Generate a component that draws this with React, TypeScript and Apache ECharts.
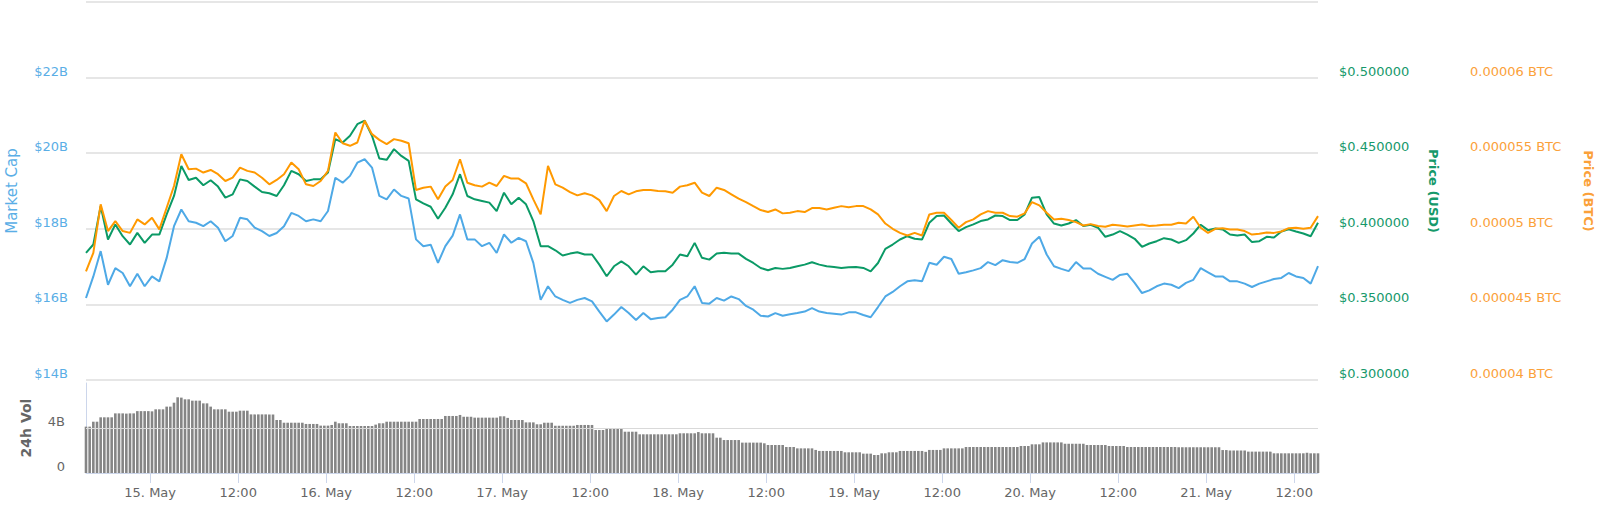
import React, { useEffect, useRef } from "react";
import * as echarts from "echarts";

// time: hours after 14 May 00:00 (UTC); line samples are hourly, volume samples half-hourly
const START_HOUR = 15.25;
const END_HOUR = 183.25;

const xTickHours = [24, 36, 48, 60, 72, 84, 96, 108, 120, 132, 144, 156, 168, 180];
const xTickLabels = ["15. May", "12:00", "16. May", "12:00", "17. May", "12:00", "18. May", "12:00", "19. May", "12:00", "20. May", "12:00", "21. May", "12:00"];

// Market Cap in billions USD
const marketCap = [
  16.17, 16.74, 17.41, 16.52, 16.96, 16.83, 16.48, 16.81, 16.48, 16.74, 16.61, 17.23, 18.07, 18.51, 18.20, 18.16, 18.07, 18.20, 18.03, 17.67, 17.81, 18.29, 18.25, 18.03, 17.94, 17.81, 17.89, 18.07, 18.42, 18.34, 18.20, 18.25, 18.20, 18.47, 19.35, 19.22, 19.40, 19.75, 19.84, 19.62, 18.87, 18.78, 19.04,
  18.87, 18.80, 17.72, 17.54, 17.58, 17.10, 17.54, 17.82, 18.38, 17.72, 17.72, 17.54, 17.63, 17.36, 17.85, 17.63, 17.76, 17.67, 17.10, 16.12, 16.48, 16.21, 16.12, 16.04, 16.12, 16.17, 16.08, 15.81, 15.55, 15.73, 15.93, 15.77, 15.59, 15.77, 15.61, 15.64, 15.66, 15.86, 16.12, 16.21, 16.48, 16.04,
  16.02, 16.17, 16.10, 16.21, 16.14, 15.96, 15.86, 15.70, 15.68, 15.77, 15.70, 15.74, 15.77, 15.81, 15.90, 15.81, 15.77, 15.75, 15.73, 15.79, 15.79, 15.72, 15.66, 15.93, 16.21, 16.33, 16.48, 16.61, 16.64, 16.61, 17.10, 17.05, 17.26, 17.20, 16.81, 16.85, 16.90, 16.96, 17.12, 17.04, 17.17, 17.12,
  17.10, 17.20, 17.61, 17.79, 17.32, 17.01, 16.94, 16.88, 17.12, 16.95, 16.95, 16.81, 16.73, 16.65, 16.78, 16.81, 16.57, 16.30, 16.37, 16.48, 16.55, 16.52, 16.43, 16.57, 16.65, 16.96, 16.85, 16.74, 16.74, 16.61, 16.61, 16.55, 16.46, 16.55, 16.61, 16.67, 16.70, 16.83, 16.74, 16.70, 16.55, 17.01,
];

// Price in USD
const priceUsd = [
  0.3841, 0.3896, 0.4150, 0.3929, 0.4029, 0.3951, 0.3896, 0.3973, 0.3907, 0.3962, 0.3962, 0.4095, 0.4217, 0.4416, 0.4323, 0.4338, 0.4288, 0.4321, 0.4279, 0.4206, 0.4228, 0.4327, 0.4316, 0.4279, 0.4243, 0.4235, 0.4217, 0.4288, 0.4383, 0.4361, 0.4316, 0.4327, 0.4327, 0.4372, 0.4593, 0.4571, 0.4615, 0.4692, 0.4715, 0.4615, 0.4465, 0.4456, 0.4527,
  0.4482, 0.4449, 0.4195, 0.4168, 0.4146, 0.4066, 0.4139, 0.4228, 0.4361, 0.4217, 0.4195, 0.4184, 0.4173, 0.4117, 0.4239, 0.4162, 0.4206, 0.4162, 0.4051, 0.3885, 0.3885, 0.3858, 0.3823, 0.3836, 0.3845, 0.3830, 0.3830, 0.3763, 0.3686, 0.3752, 0.3785, 0.3752, 0.3697, 0.3752, 0.3712, 0.3719, 0.3719, 0.3763, 0.3830, 0.3819, 0.3907, 0.3808,
  0.3796, 0.3836, 0.3841, 0.3836, 0.3836, 0.3801, 0.3774, 0.3741, 0.3726, 0.3741, 0.3735, 0.3741, 0.3752, 0.3763, 0.3779, 0.3763, 0.3752, 0.3748, 0.3741, 0.3746, 0.3748, 0.3741, 0.3719, 0.3774, 0.3867, 0.3896, 0.3929, 0.3951, 0.3934, 0.3929, 0.4040, 0.4084, 0.4088, 0.4035, 0.3985, 0.4011, 0.4029, 0.4051, 0.4062, 0.4088, 0.4084, 0.4058,
  0.4058, 0.4095, 0.4206, 0.4210, 0.4095, 0.4035, 0.4022, 0.4035, 0.4058, 0.4018, 0.4027, 0.4007, 0.3947, 0.3962, 0.3985, 0.3962, 0.3934, 0.3881, 0.3903, 0.3918, 0.3938, 0.3929, 0.3907, 0.3925, 0.3969, 0.4027, 0.3991, 0.4002, 0.3996, 0.3962, 0.3956, 0.3962, 0.3912, 0.3918, 0.3947, 0.3942, 0.3982, 0.3996, 0.3982, 0.3969, 0.3951, 0.4040,
];

// Price in BTC, expressed in satoshis (1 BTC = 100,000,000 sat)
const priceBtcSats = [
  4719, 4841, 5162, 4985, 5051, 4985, 4973, 5062, 5029, 5073, 4996, 5139, 5283, 5493, 5394, 5398, 5372, 5389, 5361, 5316, 5338, 5405, 5383, 5372, 5338, 5294, 5323, 5361, 5438, 5394, 5294, 5283, 5316, 5383, 5637, 5566, 5549, 5571, 5715, 5626, 5588, 5560, 5593,
  5582, 5566, 5257, 5272, 5279, 5195, 5279, 5323, 5460, 5305, 5288, 5279, 5305, 5283, 5350, 5332, 5332, 5301, 5195, 5095, 5416, 5294, 5272, 5243, 5221, 5235, 5221, 5190, 5117, 5217, 5250, 5228, 5248, 5257, 5257, 5250, 5248, 5239, 5279, 5288, 5305, 5239,
  5217, 5272, 5257, 5228, 5199, 5177, 5150, 5124, 5111, 5128, 5102, 5106, 5117, 5111, 5137, 5137, 5128, 5139, 5150, 5142, 5150, 5150, 5128, 5095, 5035, 5000, 4973, 4956, 4973, 4956, 5095, 5106, 5106, 5058, 5007, 5044, 5062, 5095, 5117, 5106, 5106, 5084,
  5080, 5102, 5177, 5155, 5106, 5062, 5066, 5058, 5044, 5022, 5031, 5018, 5013, 5027, 5022, 5015, 5022, 5029, 5018, 5022, 5027, 5027, 5040, 5035, 5080, 5007, 4973, 5000, 5004, 4996, 4996, 4985, 4962, 4967, 4976, 4973, 4982, 5004, 5007, 5000, 5007, 5084,
];

// 24h volume in billions USD, half-hourly
const volume24h = [
  4.12, 4.12, 4.56, 4.56, 4.95, 4.95, 4.95, 4.95, 5.3, 5.3, 5.3, 5.28, 5.3, 5.3, 5.5, 5.5, 5.5, 5.5, 5.48, 5.66, 5.66, 5.66, 5.9, 5.9,
  6.25, 6.73, 6.7, 6.55, 6.55, 6.43, 6.43, 6.43, 6.19, 6.19, 5.9, 5.66, 5.66, 5.66, 5.66, 5.45, 5.45, 5.45, 5.54, 5.54, 5.54, 5.21, 5.21, 5.21,
  5.21, 5.21, 5.2, 5.2, 4.71, 4.71, 4.47, 4.47, 4.47, 4.47, 4.47, 4.47, 4.36, 4.36, 4.36, 4.36, 4.21, 4.21, 4.21, 4.27, 4.56, 4.42, 4.42, 4.42,
  4.18, 4.18, 4.18, 4.18, 4.18, 4.18, 4.18, 4.3, 4.42, 4.42, 4.56, 4.56, 4.56, 4.56, 4.56, 4.56, 4.56, 4.56, 4.56, 4.8, 4.8, 4.8, 4.8, 4.8,
  4.8, 4.8, 5.07, 5.07, 5.07, 5.07, 5.16, 5.0, 5.0, 5.0, 4.92, 4.92, 4.92, 4.92, 4.92, 4.92, 4.92, 5.04, 5.04, 4.9, 4.71, 4.71, 4.71, 4.71,
  4.5, 4.5, 4.5, 4.33, 4.33, 4.47, 4.47, 4.47, 4.2, 4.2, 4.2, 4.2, 4.2, 4.2, 4.27, 4.27, 4.27, 4.27, 4.27, 3.82, 3.82, 3.82, 3.91, 3.91,
  3.91, 3.91, 3.91, 3.67, 3.67, 3.67, 3.67, 3.44, 3.44, 3.44, 3.44, 3.44, 3.44, 3.44, 3.44, 3.44, 3.44, 3.44, 3.53, 3.53, 3.53, 3.53, 3.53, 3.64,
  3.53, 3.53, 3.53, 3.53, 3.14, 3.14, 2.93, 2.93, 2.93, 2.93, 2.93, 2.7, 2.7, 2.7, 2.7, 2.7, 2.7, 2.64, 2.49, 2.49, 2.49, 2.49, 2.49, 2.31,
  2.31, 2.31, 2.19, 2.19, 2.19, 2.19, 2.19, 2.05, 1.96, 1.96, 1.96, 1.96, 1.96, 1.96, 1.96, 1.84, 1.84, 1.84, 1.84, 1.84, 1.72, 1.72, 1.72, 1.6,
  1.6, 1.75, 1.75, 1.84, 1.84, 1.84, 1.96, 1.96, 1.96, 1.96, 1.96, 1.96, 1.96, 1.88, 2.05, 2.05, 2.05, 2.05, 2.19, 2.19, 2.19, 2.19, 2.19, 2.19,
  2.31, 2.31, 2.31, 2.31, 2.31, 2.31, 2.31, 2.31, 2.31, 2.31, 2.31, 2.31, 2.31, 2.31, 2.31, 2.4, 2.4, 2.4, 2.55, 2.55, 2.55, 2.72, 2.72, 2.72,
  2.72, 2.72, 2.72, 2.6, 2.6, 2.6, 2.6, 2.6, 2.6, 2.49, 2.49, 2.49, 2.49, 2.49, 2.49, 2.4, 2.4, 2.4, 2.4, 2.4, 2.31, 2.31, 2.31, 2.31,
  2.31, 2.31, 2.31, 2.31, 2.31, 2.31, 2.31, 2.31, 2.31, 2.31, 2.29, 2.29, 2.29, 2.29, 2.29, 2.29, 2.29, 2.29, 2.29, 2.29, 2.29, 2.29, 2.04, 2.04,
  2.0, 2.0, 2.0, 2.0, 2.0, 1.9, 1.9, 1.9, 1.9, 1.9, 1.9, 1.9, 1.75, 1.75, 1.75, 1.75, 1.75, 1.75, 1.75, 1.75, 1.75, 1.8, 1.75, 1.75,
  1.75,
];

const FONT = "DejaVu Sans";
const C_MCAP = "#4ea9e6";
const C_MCAP_TXT = "#5aaee6";
const C_USD = "#0b9a66";
const C_USD_TXT = "#16996b";
const C_BTC = "#ff9900";
const C_BTC_TXT = "#fba13a";
const GRID_LINE = "#e6e6e6";
const AXIS_LINE = "#ccd6eb";

export default function App() {
  const ref = useRef<HTMLDivElement>(null);

  useEffect(() => {
    if (!ref.current) return;
    const chart = echarts.init(ref.current, undefined, { renderer: "svg" });

    const hourly = (arr: number[]) => arr.map((v, i) => [START_HOUR + i, v]);
    const halfHourly = (arr: number[]) => arr.map((v, i) => [START_HOUR + i * 0.5, v]);

    const option: any = {
      animation: false,
      backgroundColor: "#ffffff",
      textStyle: { fontFamily: FONT },
      grid: [
        { left: 86, right: 282, top: 2, height: 378, outerBoundsMode: "none" },
        { left: 86, right: 282, top: 383, height: 90, outerBoundsMode: "none" },
      ],
      xAxis: [
        {
          type: "value",
          gridIndex: 0,
          min: START_HOUR,
          max: END_HOUR,
          show: false,
        },
        {
          type: "value",
          gridIndex: 1,
          min: START_HOUR,
          max: END_HOUR,
          axisLine: { show: true, lineStyle: { color: AXIS_LINE, width: 1 } },
          axisTick: { show: true, length: 10, customValues: xTickHours, lineStyle: { color: AXIS_LINE } },
          axisLabel: {
            customValues: xTickHours,
            margin: 13,
            color: "#666666",
            fontSize: 13,
            fontFamily: FONT,
            formatter: (v: number) => {
              const k = xTickHours.indexOf(Math.round(v));
              return k >= 0 ? xTickLabels[k] : "";
            },
          },
          splitLine: { show: false },
        },
      ],
      yAxis: [
        {
          type: "value",
          gridIndex: 0,
          position: "left",
          min: 14,
          max: 24,
          interval: 2,
          name: "Market Cap",
          nameLocation: "middle",
          nameRotate: 90,
          nameGap: 67,
          nameTextStyle: { color: C_MCAP_TXT, fontSize: 15, fontFamily: FONT },
          axisLine: { show: false },
          axisTick: { show: false },
          axisLabel: {
            color: C_MCAP_TXT,
            fontSize: 13,
            fontFamily: FONT,
            margin: 18,
            verticalAlign: "bottom",
            showMaxLabel: false,
            formatter: (v: number) => (v >= 24 ? "" : `$${v}B`),
          },
          splitLine: { show: true, lineStyle: { color: GRID_LINE, width: 2 } },
        },
        {
          type: "value",
          gridIndex: 0,
          position: "right",
          min: 0.3,
          max: 0.55,
          interval: 0.05,
          name: "Price (USD)",
          nameLocation: "middle",
          nameRotate: -90,
          nameGap: 109,
          nameTextStyle: { color: C_USD_TXT, fontSize: 13, fontWeight: "bold", fontFamily: FONT },
          axisLine: { show: false },
          axisTick: { show: false },
          axisLabel: {
            color: C_USD_TXT,
            fontSize: 13,
            fontFamily: FONT,
            margin: 21,
            verticalAlign: "bottom",
            showMaxLabel: false,
            formatter: (v: number) => (v > 0.52 ? "" : `$${v.toFixed(6)}`),
          },
          splitLine: { show: false },
        },
        {
          type: "value",
          gridIndex: 0,
          position: "right",
          offset: 131,
          min: 4000,
          max: 6500,
          interval: 500,
          name: "Price (BTC)",
          nameLocation: "middle",
          nameRotate: -90,
          nameGap: 133,
          nameTextStyle: { color: C_BTC_TXT, fontSize: 13, fontWeight: "bold", fontFamily: FONT },
          axisLine: { show: false },
          axisTick: { show: false },
          axisLabel: {
            color: C_BTC_TXT,
            fontSize: 13,
            fontFamily: FONT,
            margin: 21,
            verticalAlign: "bottom",
            showMaxLabel: false,
            formatter: (v: number) => (v > 6200 ? "" : `${String(Math.round(v) / 1e8)} BTC`),
          },
          splitLine: { show: false },
        },
        {
          type: "value",
          gridIndex: 1,
          position: "left",
          min: 0,
          max: 8,
          interval: 4,
          name: "24h Vol",
          nameLocation: "middle",
          nameRotate: 90,
          nameGap: 53,
          nameTextStyle: { color: "#666666", fontSize: 14, fontWeight: "bold", fontFamily: FONT },
          axisLine: { show: true, lineStyle: { color: AXIS_LINE, width: 1 } },
          axisTick: { show: false },
          axisLabel: {
            color: "#666666",
            fontSize: 13,
            fontFamily: FONT,
            margin: 21,
            verticalAlign: "bottom",
            showMaxLabel: false,
            formatter: (v: number) => (v === 0 ? "0" : v >= 8 ? "" : `${v}B`),
          },
          splitLine: { show: false },
        },
      ],
      series: [
        {
          name: "24h Vol",
          type: "bar",
          xAxisIndex: 1,
          yAxisIndex: 3,
          data: halfHourly(volume24h),
          barWidth: 2.6,
          itemStyle: { color: "#858585" },
          markLine: {
            silent: true,
            symbol: "none",
            label: { show: false },
            lineStyle: { color: "#d9d9d9", width: 1, type: "solid" },
            data: [{ yAxis: 4 }],
          },
        },
        {
          name: "Market Cap",
          type: "line",
          xAxisIndex: 0,
          yAxisIndex: 0,
          data: hourly(marketCap),
          showSymbol: false,
          symbol: "none",
          lineStyle: { color: C_MCAP, width: 2 },
          itemStyle: { color: C_MCAP },
        },
        {
          name: "Price (USD)",
          type: "line",
          xAxisIndex: 0,
          yAxisIndex: 1,
          data: hourly(priceUsd),
          showSymbol: false,
          symbol: "none",
          lineStyle: { color: C_USD, width: 2 },
          itemStyle: { color: C_USD },
        },
        {
          name: "Price (BTC)",
          type: "line",
          xAxisIndex: 0,
          yAxisIndex: 2,
          data: hourly(priceBtcSats),
          showSymbol: false,
          symbol: "none",
          lineStyle: { color: C_BTC, width: 2 },
          itemStyle: { color: C_BTC },
        },
      ],
    };

    chart.setOption(option);
    return () => {
      chart.dispose();
    };
  }, []);

  return (
    <div
      ref={ref}
      style={{ position: "fixed", left: 0, top: 0, width: 1600, height: 506, background: "#ffffff" }}
    />
  );
}
